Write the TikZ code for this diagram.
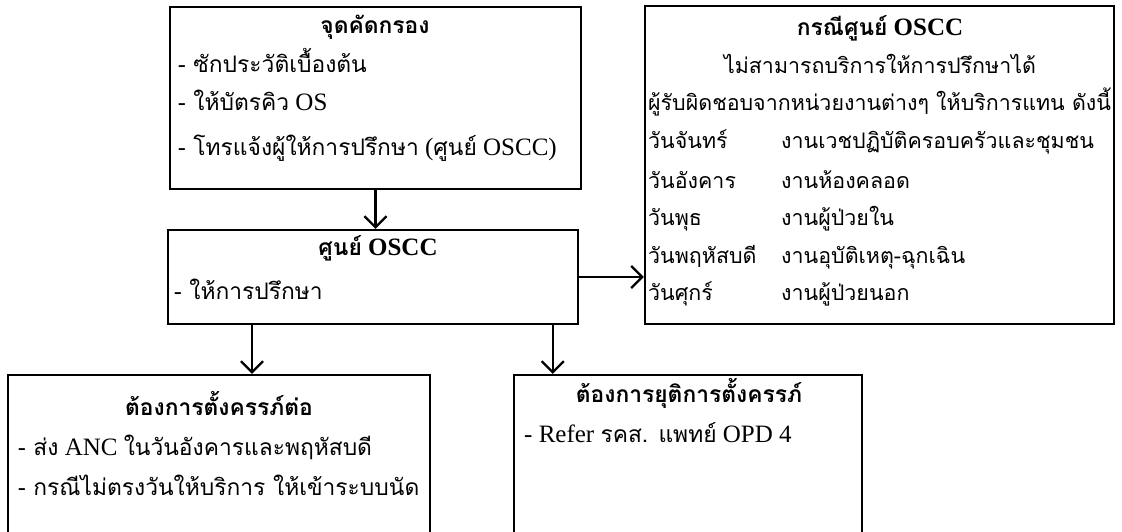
\documentclass[tikz,border=0pt]{standalone}
\usepackage{fontspec}
\setmainfont{Liberation Serif}
\newfontfamily\thaicond[Script=Thai,Scale=0.912]{Loma}
\newfontfamily\thaiwide[Script=Thai]{Loma}
\usepackage{tikz}
\usetikzlibrary{arrows.meta, positioning}

\begin{document}
\begin{tikzpicture}[
            x=1pt, y=-1pt,
            box/.style={draw, line width=2.5pt, inner sep=0pt},
            head/.style={font=\fontsize{25}{29}\selectfont\bfseries, anchor=base, inner sep=0pt},
            txt/.style={font=\fontsize{25}{29}\selectfont, anchor=base west, inner sep=0pt},
            wtxt/.style={font=\fontsize{21.4}{25}\selectfont\thaiwide, anchor=base west, inner sep=0pt},
            arrow/.style={line width=2.2pt, -{Straight Barb[length=11pt, width=22pt]}}
        ]
        \clip (0,0) rectangle (1122,531);

        % Boxes (manual layout to match figure)
        \node[box, minimum width=411pt, minimum height=182pt] (screen) at (375.5,98) {};
        \node[box, minimum width=410pt, minimum height=94pt] (oscc) at (373,277) {};
        \node[box, minimum width=469pt, minimum height=318pt] (case) at (879.5,165) {};
        \node[box, minimum width=422pt, minimum height=190pt] (keep) at (219,470) {};
        \node[box, minimum width=348pt, minimum height=190pt] (stop) at (688,470) {};

        % Screening point
        \node[head] (screenT) at (375,33) {\thaicond จุดคัดกรอง};
        \node[txt] (screen1) at (178,72) {\thaicond - ซักประวัติเบื้องต้น};
        \node[txt] (screen2) at (178,110) {{\thaicond - ให้บัตรคิว} OS};
        \node[txt] (screen3) at (178,155) {{\thaicond - โทรแจ้งผู้ให้การปรึกษา} ({\thaicond ศูนย์} OSCC)};

        % OSCC centre
        \node[head] (osccT) at (378,255) {{\thaicond ศูนย์} OSCC};
        \node[txt] (oscc1) at (174,299) {\thaicond - ให้การปรึกษา};

        % OSCC not available
        \node[head] (caseT) at (880,35) {{\thaicond กรณีศูนย์} OSCC};
        \node[wtxt, anchor=base] (case1) at (880,73) {ไม่สามารถบริการให้การปรึกษาได้};
        \node[wtxt] (case2) at (648,110) {ผู้รับผิดชอบจากหน่วยงานต่างๆ ให้บริการแทน ดังนี้};
        \node[wtxt] (mon) at (648,148) {วันจันทร์};
        \node[wtxt] (monW) at (781,148) {งานเวชปฏิบัติครอบครัวและชุมชน};
        \node[wtxt] (tue) at (648,188) {วันอังคาร};
        \node[wtxt] (tueW) at (781,188) {งานห้องคลอด};
        \node[wtxt] (wed) at (648,225) {วันพุธ};
        \node[wtxt] (wedW) at (781,225) {งานผู้ป่วยใน};
        \node[wtxt] (thu) at (648,263) {วันพฤหัสบดี};
        \node[wtxt] (thuW) at (781,263) {งานอุบัติเหตุ-ฉุกเฉิน};
        \node[wtxt] (fri) at (648,300) {วันศุกร์};
        \node[wtxt] (friW) at (781,300) {งานผู้ป่วยนอก};

        % Keep the pregnancy
        \node[head] (keepT) at (219,415) {\thaicond ต้องการตั้งครรภ์ต่อ};
        \node[txt] (keep1) at (18,455) {{\thaicond - ส่ง} ANC {\thaicond ในวันอังคารและพฤหัสบดี}};
        \node[txt] (keep2) at (18,495) {\thaicond - กรณีไม่ตรงวันให้บริการ ให้เข้าระบบนัด};

        % Stop the pregnancy
        \node[head] (stopT) at (689,402) {\thaicond ต้องการยุติการตั้งครรภ์};
        \node[txt] (stop1) at (524,442) {- Refer {\thaicond รคส. แพทย์} OPD 4};

        % Arrows
        \coordinate (keepIn) at ([xshift=33pt]keep.north);
        \coordinate (stopIn) at ([xshift=40pt]stop.north west);

        \draw[arrow] (screen.south) -- (screen.south |- oscc.north);
        \draw[arrow] (oscc.east) -- (oscc.east -| case.west);
        \draw[arrow] (keepIn |- oscc.south) -- (keepIn);
        \draw[arrow] (stopIn |- oscc.south) -- (stopIn);

    \end{tikzpicture}
\end{document}
